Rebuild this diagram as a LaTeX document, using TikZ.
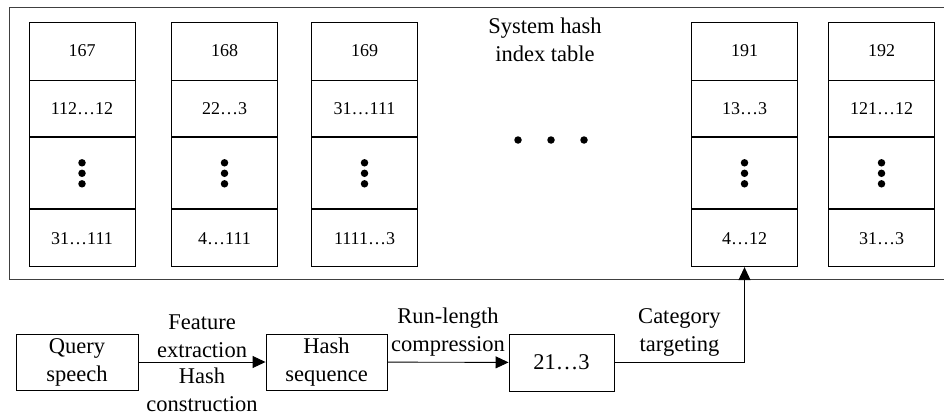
\documentclass[tikz,border=0pt]{standalone}
\usepackage{fontspec}
\setmainfont{Liberation Serif}
\usetikzlibrary{arrows.meta,positioning}

\begin{document}
\begin{tikzpicture}[x=1pt, y=-1pt, line width=0.9pt,
    cell/.style={draw, minimum width=106pt, inner sep=0pt, font=\fontsize{18}{21}\selectfont},
    proc/.style={draw, minimum height=56pt, inner sep=0pt, align=center, font=\fontsize{22.5}{28}\selectfont},
    lbl/.style={align=center, font=\fontsize{22.5}{28}\selectfont, inner sep=4pt},
    dot/.style={circle, fill, inner sep=0pt, minimum size=7.5pt},
    arr/.style={-{Triangle[length=13pt,width=12pt]}}]
  \clip (0,0) rectangle (944,415);
  % outer frame of the index table
  \draw[black!75] (9,7) rectangle (960,279);
  \node[lbl] (title) at (545,40) {System hash\\index table};

  % hash table columns
  \foreach \cx/\key/\first/\last/\name in {82/167/112…12/31…111/a, 224.5/168/22…3/4…111/b,
      364.5/169/31…111/1111…3/c, 744.5/191/13…3/4…12/d, 881.5/192/121…12/31…3/e} {
    \node[cell, minimum height=58pt] (\name1) at (\cx,51) {\key};
    \node[cell, minimum height=56pt, below=0pt of \name1] (\name2) {\first};
    \node[cell, minimum height=71pt, below=0pt of \name2] (\name3) {};
    \node[cell, minimum height=57pt, below=0pt of \name3] (\name4) {\last};
    \foreach \dy in {-10.5,0,10.5}
      \node[dot] at ([yshift=\dy]\name3.center) {};
  }
  \foreach \dx in {518,551,584}
    \node[dot] at (\dx,140) {};

  % query pipeline
  \node[proc, minimum width=122pt] (query) at (77,362) {Query\\speech};
  \node[proc, minimum width=121pt] (hseq) at (326.5,362) {Hash\\sequence};
  \node[proc, minimum width=105pt, minimum height=57pt] (rle) at (561.5,362.5) {21…3};

  \draw[arr] (query) -- node[lbl, above] {Feature\\extraction} node[lbl, below, inner sep=0pt, yshift=-5pt] {Hash\\construction} (hseq);
  \draw[arr] (hseq) -- node[lbl, above, inner sep=6pt] {Run-length\\compression} (rle);
  \draw[arr] (rle.east) -| node[lbl, above, pos=0.25, inner sep=6pt] {Category\\targeting} (d4.south);
\end{tikzpicture}
\end{document}
